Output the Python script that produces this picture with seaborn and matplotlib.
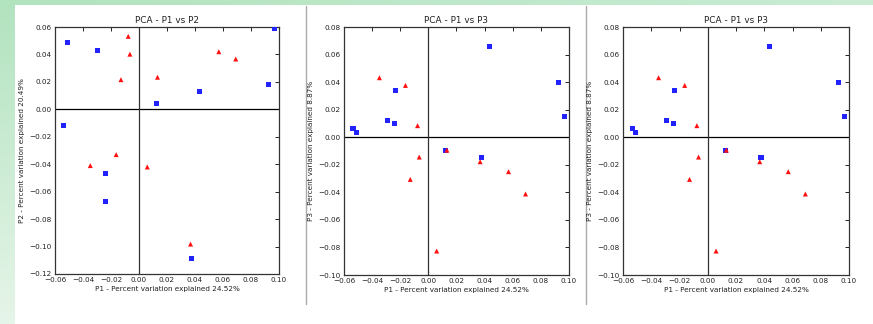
import numpy as np
import pandas as pd
import matplotlib
matplotlib.use("Agg")
import matplotlib.pyplot as plt
import seaborn as sns
from matplotlib.lines import Line2D
from matplotlib.colors import LinearSegmentedColormap

# ---- data ----
group_names = ["blue", "red"]
p1_blue = [-0.0536, -0.0510, -0.0293, -0.0241, -0.0236, 0.0123, 0.0377, 0.0434, 0.0926, 0.0967]
p2_blue = [-0.0118, 0.0488, 0.0427, -0.0470, -0.0675, 0.0043, -0.1090, 0.0128, 0.0184, 0.0590]
p3_blue = [0.0066, 0.0037, 0.0122, 0.0100, 0.0341, -0.0098, -0.0144, 0.0655, 0.0400, 0.0148]

p1_red = [-0.0348, -0.0163, -0.0129, -0.0077, -0.0065, 0.0059, 0.0132, 0.0368, 0.0570, 0.0691]
p2_red = [-0.0410, -0.0330, 0.0216, 0.0532, 0.0402, -0.0420, 0.0234, -0.0982, 0.0420, 0.0367]
p3_red = [0.0432, 0.0376, -0.0306, 0.0084, -0.0144, -0.0826, -0.0094, -0.0178, -0.0250, -0.0412]

titles = ["PCA - P1 vs P2", "PCA - P1 vs P3", "PCA - P1 vs P3"]
xlabel = "P1 - Percent variation explained 24.52%"
ylabels = ["P2 - Percent variation explained 20.49%",
           "P3 - Percent variation explained 8.87%",
           "P3 - Percent variation explained 8.87%"]
xticks = [-0.06, -0.04, -0.02, 0.00, 0.02, 0.04, 0.06, 0.08, 0.10]
yticks_p2 = [-0.12, -0.10, -0.08, -0.06, -0.04, -0.02, 0.00, 0.02, 0.04, 0.06]
yticks_p3 = [-0.10, -0.08, -0.06, -0.04, -0.02, 0.00, 0.02, 0.04, 0.06, 0.08]

df = pd.DataFrame({
    "P1": p1_blue + p1_red,
    "P2": p2_blue + p2_red,
    "P3": p3_blue + p3_red,
    "group": [group_names[0]] * len(p1_blue) + [group_names[1]] * len(p1_red),
})

sns.set_style("white")
plt.rcParams["font.family"] = ["DejaVu Sans"]

W, H = 873, 324
fig = plt.figure(figsize=(W / 100, H / 100), dpi=100)
fig.patch.set_facecolor("white")

# background decorations (green frame + separators)
bg = fig.add_axes([0, 0, 1, 1], zorder=-10)
bg.axis("off")
cm_left = LinearSegmentedColormap.from_list("g", ["#b2e3bf", "#e6f5e9"])
bg.imshow(np.linspace(0, 1, 200).reshape(-1, 1), cmap=cm_left, extent=[0, 15, H, 0], aspect="auto")
cm_top = LinearSegmentedColormap.from_list("t", ["#b2e3bf", "#c9ecd3"])
bg.imshow(np.linspace(0, 1, 200).reshape(1, -1), cmap=cm_top, extent=[0, W, 5, 0], aspect="auto")
bg.set_xlim(0, W); bg.set_ylim(H, 0)
for xs in (305.5, 585.5):
    bg.add_line(Line2D([xs, xs], [6, 304], color="#aaaaaa", lw=1.0))

boxes = [(55, 279, 27, 274), (344, 569, 27, 275), (623, 849, 27, 275)]
ycols = ["P2", "P3", "P3"]
ylims = [(-0.12, 0.06), (-0.10, 0.08), (-0.10, 0.08)]
ytick_sets = [yticks_p2, yticks_p3, yticks_p3]

for i, (l, r, t, b) in enumerate(boxes):
    ax = fig.add_axes([l / W, 1 - b / H, (r - l) / W, (b - t) / H])
    ax.axhline(0, color="black", lw=0.9, zorder=1)
    ax.axvline(0, color="#333333", lw=0.9, zorder=1)
    sns.scatterplot(data=df, x="P1", y=ycols[i], hue="group", style="group",
                    palette={"blue": "#2222ff", "red": "#ff1010"},
                    markers={"blue": "s", "red": "^"},
                    s=13, linewidth=0, legend=False, ax=ax, zorder=3)
    ax.set_xlim(-0.06, 0.10)
    ax.set_ylim(*ylims[i])
    ax.set_xticks(xticks)
    ax.set_xticklabels([f"{v:.2f}".replace("-", "\u2212") for v in xticks])
    ax.set_yticks(ytick_sets[i])
    ax.set_yticklabels([f"{v:.2f}".replace("-", "\u2212") for v in ytick_sets[i]])
    ax.tick_params(direction="in", length=3, width=0.7, top=True, right=True,
                   labelsize=5.2, pad=2.5, colors="#222222")
    for sp in ax.spines.values():
        sp.set_color("#333333")
        sp.set_linewidth(0.9)
    ax.set_title(titles[i], fontsize=6.4, pad=3, color="#222222")
    ax.set_xlabel(xlabel, fontsize=5.2, labelpad=2, color="#222222")
    ax.set_ylabel(ylabels[i], fontsize=5.2, labelpad=3, color="#222222")
    ax.set_facecolor("white")

fig.savefig("out.png", dpi=100)
